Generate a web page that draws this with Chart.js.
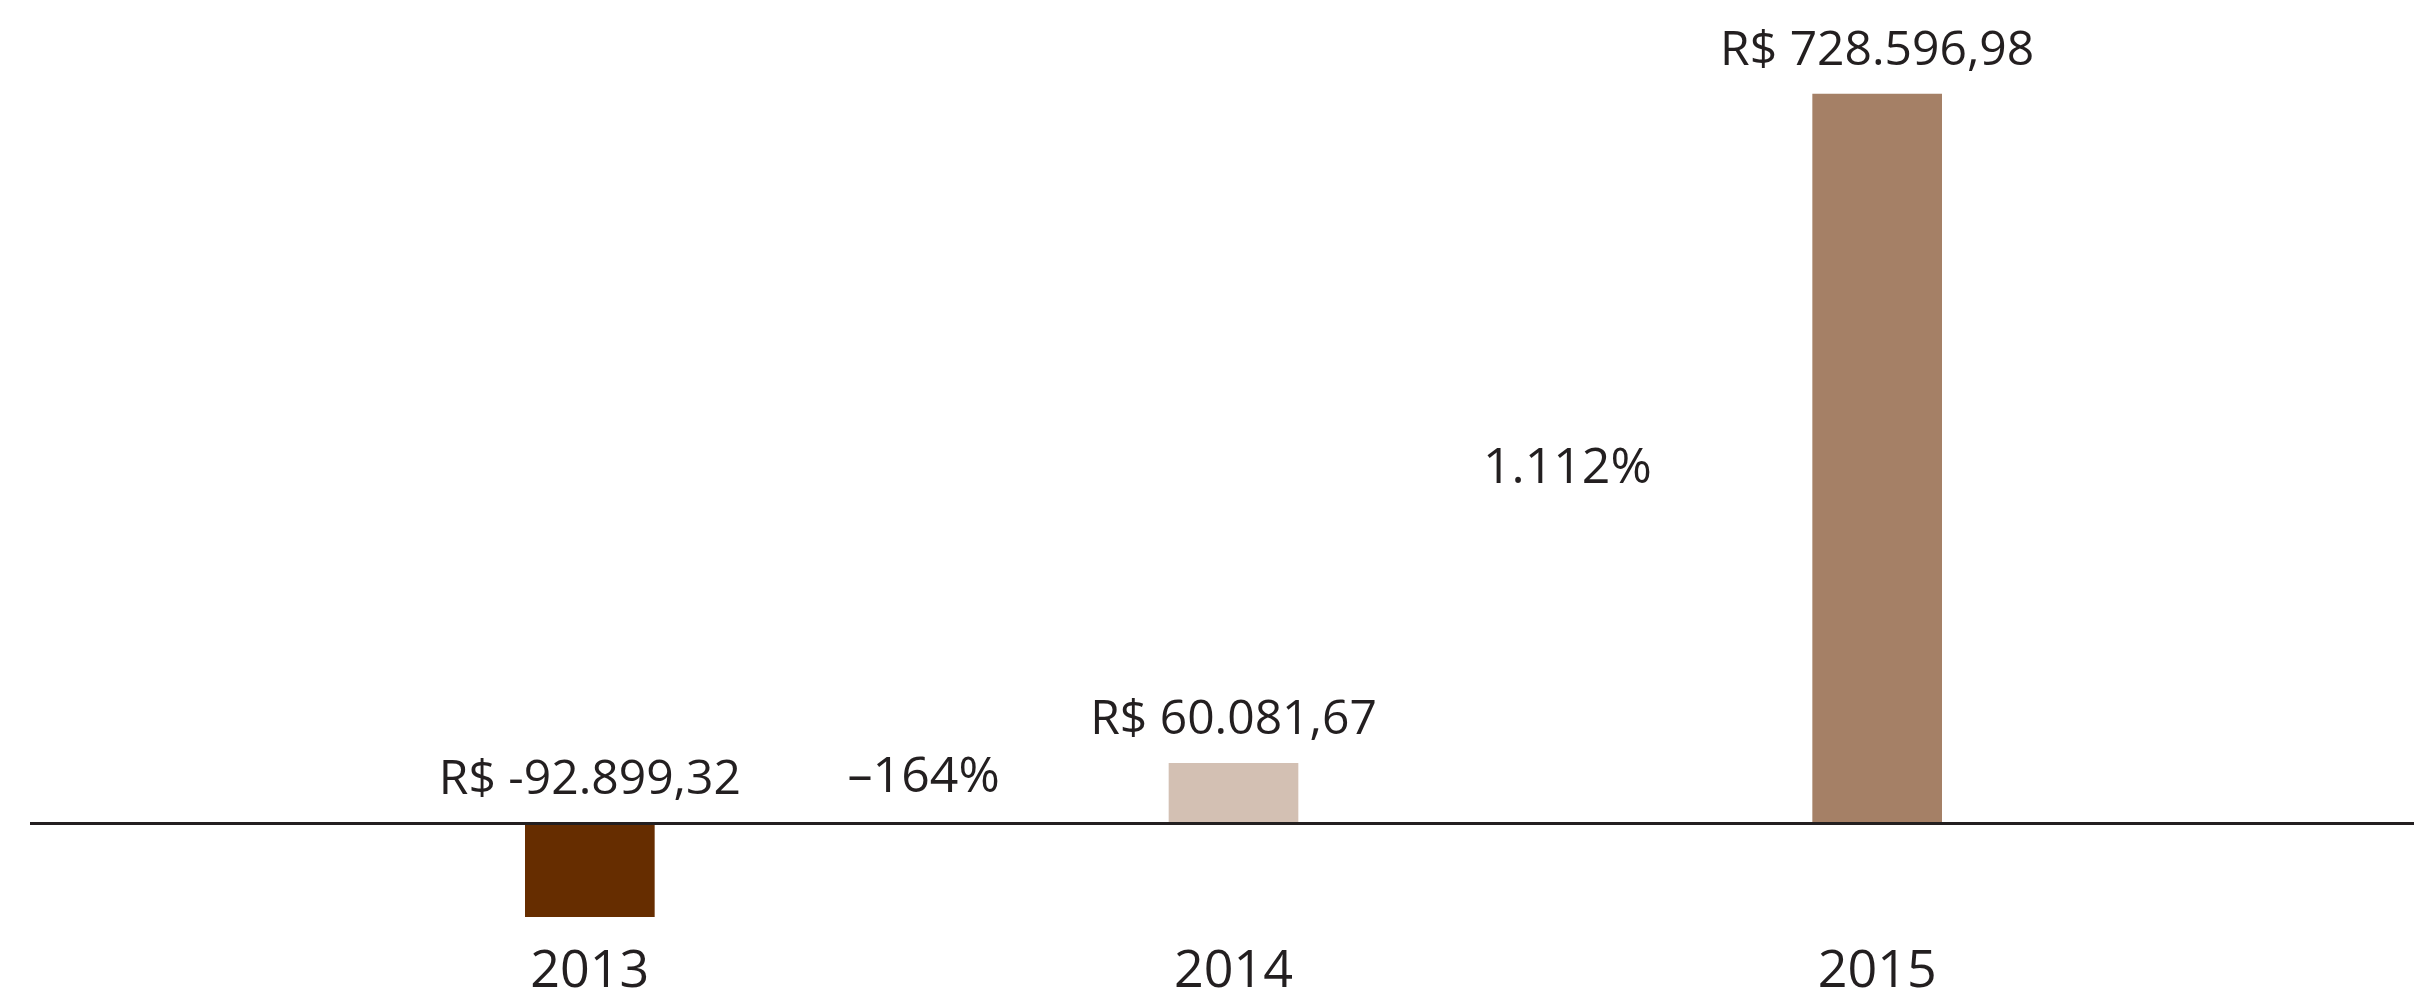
<!DOCTYPE html>
<html>
<head>
<meta charset="utf-8">
<script src="https://cdn.jsdelivr.net/npm/chart.js@4/dist/chart.umd.min.js"></script>
<style>
  html, body { margin: 0; padding: 0; background: #ffffff; }
  canvas { display: block; }
</style>
</head>
<body>
<canvas id="chart" width="2414" height="996"></canvas>
<script>
// Resultado anual (R$)
const years = ['2013', '2014', '2015'];
const resultado = [-92899.32, 60081.67, 728596.98];
const barColors = ['#662d00', '#d3c0b3', '#a58066'];
// Variação entre anos consecutivos
const variacao = ['–164%', '1.112%'];

const TEXT = '#231f20';
const FONT = '"Open Sans", "Noto Sans", sans-serif';

function brl(v) {
  const neg = v < 0;
  const [int, dec] = Math.abs(v).toFixed(2).split('.');
  const grouped = int.replace(/\B(?=(\d{3})+(?!\d))/g, '.');
  return 'R$ ' + (neg ? '-' : '') + grouped + ',' + dec;
}

// Linha do zero, estendida por toda a largura
const zeroLine = {
  id: 'zeroLine',
  afterDatasetsDraw(chart) {
    const { ctx, scales: { y } } = chart;
    const py = y.getPixelForValue(0);
    ctx.save();
    ctx.strokeStyle = TEXT;
    ctx.lineWidth = 3;
    ctx.beginPath();
    ctx.moveTo(30, py);
    ctx.lineTo(chart.width, py);
    ctx.stroke();
    ctx.restore();
  }
};

// Rótulos de valor acima de cada barra
const valueLabels = {
  id: 'valueLabels',
  afterDatasetsDraw(chart) {
    const { ctx, scales: { y } } = chart;
    const meta = chart.getDatasetMeta(0);
    ctx.save();
    ctx.fillStyle = TEXT;
    ctx.font = '48px ' + FONT;
    ctx.textAlign = 'center';
    ctx.textBaseline = 'middle';
    meta.data.forEach((bar, i) => {
      const v = resultado[i];
      const top = y.getPixelForValue(Math.max(v, 0));
      ctx.fillText(brl(v), bar.x, top - 43);
    });
    ctx.restore();
  }
};

// Percentuais de variação entre as barras
const changeLabels = {
  id: 'changeLabels',
  afterDatasetsDraw(chart, args, opts) {
    const { ctx, scales: { y } } = chart;
    const meta = chart.getDatasetMeta(0);
    ctx.save();
    ctx.fillStyle = TEXT;
    ctx.font = '50px ' + FONT;
    ctx.textAlign = 'center';
    ctx.textBaseline = 'middle';
    variacao.forEach((txt, i) => {
      const x = (meta.data[i].x + meta.data[i + 1].x) / 2 + opts.dx;
      ctx.fillText(txt, x, y.getPixelForValue(opts.at[i]));
    });
    ctx.restore();
  }
};

new Chart(document.getElementById('chart'), {
  type: 'bar',
  data: {
    labels: years,
    datasets: [{
      data: resultado,
      backgroundColor: barColors,
      borderWidth: 0,
      barThickness: 129
    }]
  },
  options: {
    responsive: false,
    animation: false,
    layout: { padding: { left: 268, right: 215, top: 30, bottom: 0 } },
    plugins: {
      legend: { display: false },
      tooltip: { enabled: false },
      changeLabels: { dx: 12, at: [46000, 354000] }
    },
    scales: {
      x: {
        grid: { display: false, drawTicks: false },
        border: { display: false },
        ticks: {
          color: TEXT,
          font: { family: FONT, size: 52, lineHeight: 1 },
          padding: 16
        },
        afterFit(scale) { scale.height = 66; }
      },
      y: {
        display: false,
        min: -106250,
        max: 792500
      }
    }
  },
  plugins: [zeroLine, valueLabels, changeLabels]
});
</script>
</body>
</html>
